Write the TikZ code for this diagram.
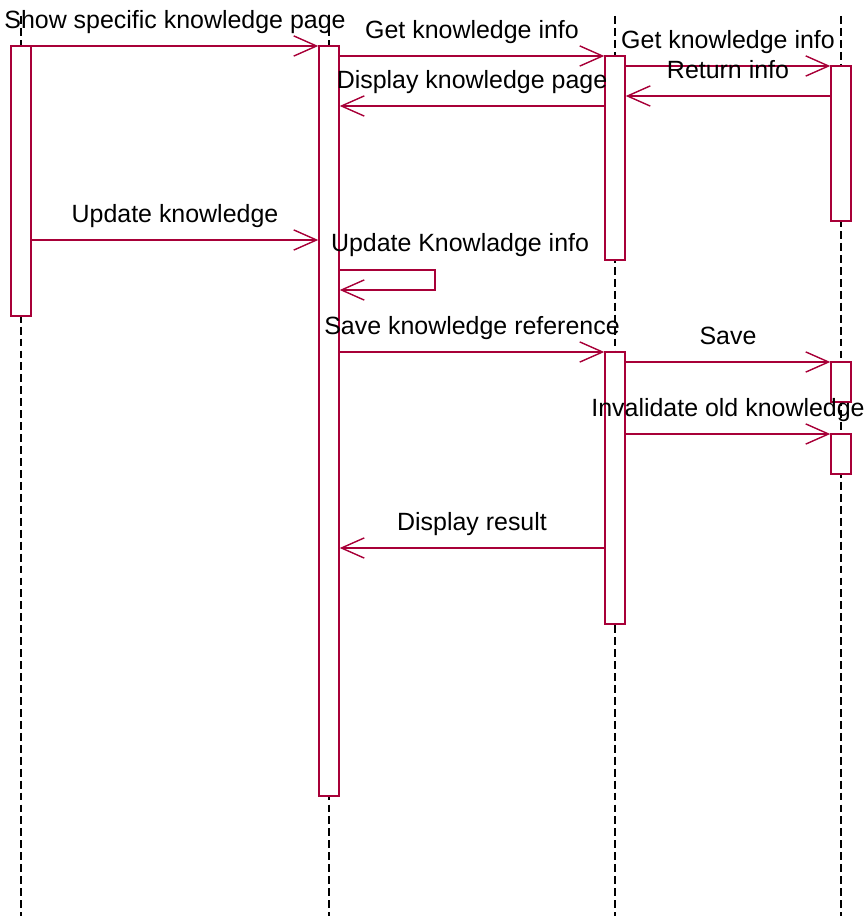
\documentclass[tikz,border=0pt]{standalone}
\usepackage{fontspec}
\setmainfont{Liberation Sans}
\usetikzlibrary{arrows.meta}

\definecolor{umlred}{RGB}{168,0,56}

\tikzset{
    lifeline/.style={black, line width=0.6pt, dash pattern=on 4.5pt off 2.3pt},
    bar/.style={draw=umlred, fill=white, line width=0.8pt, minimum width=0.4cm, inner sep=0pt},
    msg/.style={umlred, line width=0.8pt, -{Straight Barb[length=13pt, width=11.5pt]}},
    lbl/.style={midway, anchor=base, yshift=10.2pt, inner sep=0pt, text=black},
}

\begin{document}
\begin{tikzpicture}[x=0.02cm, y=-0.02cm, font=\fontsize{14.2pt}{17pt}\selectfont]

    \useasboundingbox (0,0) rectangle (865,918);

    % lifelines
    \draw[lifeline] (21,16) -- (21,916);
    \draw[lifeline] (329,16) -- (329,916);
    \draw[lifeline] (615,16) -- (615,916);
    \draw[lifeline] (841,16) -- (841,916);

    % activation bars
    \node[bar, minimum height=5.4cm] (actA) at (21,181) {};
    \node[bar, minimum height=15cm] (actB) at (329,421) {};
    \node[bar, minimum height=4.08cm] (actC) at (615,158) {};
    \node[bar, minimum height=5.44cm] (actCC) at (615,488) {};
    \node[bar, minimum height=3.1cm] (actD) at (841,143.5) {};
    \node[bar, minimum height=0.8cm] (actDD) at (841,382) {};
    \node[bar, minimum height=0.8cm] (actDDD) at (841,454) {};

    % message heights
    \coordinate (m1) at (0,46);
    \coordinate (m2) at (0,56);
    \coordinate (m3) at (0,66);
    \coordinate (m4) at (0,96);
    \coordinate (m5) at (0,106);
    \coordinate (m6) at (0,240);
    \coordinate (m7) at (0,270);
    \coordinate (m8) at (0,290);
    \coordinate (m9) at (0,352);
    \coordinate (m10) at (0,362);
    \coordinate (m11) at (0,434);
    \coordinate (m12) at (0,548);
    \coordinate (loopR) at (435,0);

    % messages
    \draw[msg] (actA.east |- m1) -- (actB.west |- m1) node[lbl] {Show specific knowledge page};
    \draw[msg] (actB.east |- m2) -- (actC.west |- m2) node[lbl] {Get knowledge info};
    \draw[msg] (actC.east |- m3) -- (actD.west |- m3) node[lbl] {Get knowledge info};
    \draw[msg] (actD.west |- m4) -- (actC.east |- m4) node[lbl] {Return info};
    \draw[msg] (actC.west |- m5) -- (actB.east |- m5) node[lbl] {Display knowledge page};
    \draw[msg] (actA.east |- m6) -- (actB.west |- m6) node[lbl] {Update knowledge};

    % self call on B
    \draw[msg] (actB.east |- m7) -- (loopR |- m7) -- (loopR |- m8) -- (actB.east |- m8);
    \node[anchor=base, inner sep=0pt] (selfLbl) at (460,252) {Update Knowladge info};

    \draw[msg] (actB.east |- m9) -- (actCC.west |- m9) node[lbl] {Save knowledge reference};
    \draw[msg] (actCC.east |- m10) -- (actDD.west |- m10) node[lbl] {Save};
    \draw[msg] (actCC.east |- m11) -- (actDDD.west |- m11) node[lbl] {Invalidate old knowledge};
    \draw[msg] (actCC.west |- m12) -- (actB.east |- m12) node[lbl] {Display result};

\end{tikzpicture}
\end{document}
